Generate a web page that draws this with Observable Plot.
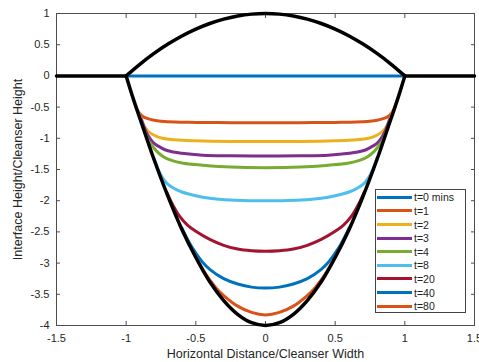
<!DOCTYPE html>
<html><head><meta charset="utf-8">
<script src="https://cdn.jsdelivr.net/npm/d3@7"></script>
<script src="https://cdn.jsdelivr.net/npm/@observablehq/plot@0.6"></script>
<style>
body{margin:0;background:#fff;}
#wrap{position:relative;width:479px;height:362px;font-family:"Liberation Sans",Arial,sans-serif;}
#legend{position:absolute;left:375px;top:189px;width:91px;height:124px;border:1px solid #444;background:#fff;box-sizing:border-box;}
.row{position:absolute;left:0;height:14px;display:flex;align-items:center;font-size:10.5px;color:#222;white-space:nowrap;}
.sw{width:35px;height:3px;margin-left:1px;margin-right:2px;}
</style></head><body><div id="wrap"></div>
<script>
// Series labels and colours
const labels = ["t=0 mins","t=1","t=2","t=3","t=4","t=8","t=20","t=40","t=80"];
const colors = ["#0072BD","#D95319","#EDB120","#7E2F8E","#77AC30","#4DBEEE","#A2142F","#0072BD","#D95319"];

// Interface curves (x, y)
const x_t0 = [-1, 1];
const y_t0 = [0, 0];
const x_t1 = [-0.93,-0.91,-0.88,-0.85,-0.8,-0.75,-0.65,-0.5,-0.25,0,0.25,0.5,0.65,0.75,0.8,0.85,0.88,0.91,0.93];
const y_t1 = [-0.5,-0.58,-0.65,-0.68,-0.71,-0.725,-0.74,-0.745,-0.75,-0.75,-0.75,-0.745,-0.74,-0.725,-0.71,-0.68,-0.65,-0.58,-0.5];
const x_t2 = [-0.91,-0.89,-0.86,-0.83,-0.79,-0.74,-0.65,-0.5,-0.25,0,0.25,0.5,0.65,0.74,0.79,0.83,0.86,0.89,0.91];
const y_t2 = [-0.58,-0.72,-0.84,-0.91,-0.96,-1.0,-1.025,-1.04,-1.05,-1.05,-1.05,-1.04,-1.025,-1.0,-0.96,-0.91,-0.84,-0.72,-0.58];
const x_t3 = [-0.89,-0.86,-0.83,-0.8,-0.75,-0.7,-0.6,-0.45,-0.25,0,0.25,0.45,0.6,0.7,0.75,0.8,0.83,0.86,0.89];
const y_t3 = [-0.7,-0.88,-1.0,-1.08,-1.15,-1.2,-1.24,-1.27,-1.28,-1.285,-1.28,-1.27,-1.24,-1.2,-1.15,-1.08,-1.0,-0.88,-0.7];
const x_t4 = [-0.87,-0.84,-0.81,-0.78,-0.73,-0.68,-0.59,-0.45,-0.25,0,0.25,0.45,0.59,0.68,0.73,0.78,0.81,0.84,0.87];
const y_t4 = [-0.88,-1.04,-1.13,-1.21,-1.3,-1.35,-1.4,-1.43,-1.46,-1.47,-1.46,-1.43,-1.4,-1.35,-1.3,-1.21,-1.13,-1.04,-0.88];
const x_t8 = [-0.8,-0.77,-0.74,-0.7,-0.65,-0.6,-0.5,-0.4,-0.25,-0.12,0,0.12,0.25,0.4,0.5,0.6,0.65,0.7,0.74,0.77,0.8];
const y_t8 = [-1.32,-1.5,-1.63,-1.74,-1.81,-1.86,-1.92,-1.96,-1.99,-2.0,-2.0,-2.0,-1.99,-1.96,-1.92,-1.86,-1.81,-1.74,-1.63,-1.5,-1.32];
const x_t20 = [-0.71,-0.67,-0.62,-0.56,-0.5,-0.4,-0.3,-0.2,-0.1,0,0.1,0.2,0.3,0.4,0.5,0.56,0.62,0.67,0.71];
const y_t20 = [-1.86,-2.05,-2.24,-2.39,-2.49,-2.62,-2.715,-2.775,-2.802,-2.81,-2.802,-2.775,-2.715,-2.62,-2.49,-2.39,-2.24,-2.05,-1.86];
const x_t40 = [-0.6,-0.55,-0.5,-0.45,-0.4,-0.3,-0.2,-0.1,0,0.1,0.2,0.3,0.4,0.45,0.5,0.55,0.6];
const y_t40 = [-2.44,-2.66,-2.84,-2.99,-3.1,-3.25,-3.335,-3.385,-3.4,-3.385,-3.335,-3.25,-3.1,-2.99,-2.84,-2.66,-2.44];
const x_t80 = [-0.5,-0.45,-0.4,-0.35,-0.3,-0.2,-0.1,0,0.1,0.2,0.3,0.35,0.4,0.45,0.5];
const y_t80 = [-2.9,-3.1,-3.27,-3.41,-3.52,-3.69,-3.79,-3.83,-3.79,-3.69,-3.52,-3.41,-3.27,-3.1,-2.9];

// Cleanser outline (black)
const x_top = [-1,-0.9,-0.8,-0.7,-0.6,-0.5,-0.4,-0.3,-0.2,-0.1,0,0.1,0.2,0.3,0.4,0.5,0.6,0.7,0.8,0.9,1];
const y_top = [0,0.19,0.36,0.51,0.64,0.75,0.84,0.91,0.96,0.99,1,0.99,0.96,0.91,0.84,0.75,0.64,0.51,0.36,0.19,0];
const x_bot = [-1,-0.95,-0.9,-0.8,-0.7,-0.6,-0.5,-0.4,-0.3,-0.2,-0.1,0,0.1,0.2,0.3,0.4,0.5,0.6,0.7,0.8,0.9,0.95,1];
const y_bot = [0,-0.36,-0.69,-1.34,-1.93,-2.46,-2.91,-3.3,-3.6,-3.82,-3.955,-4,-3.955,-3.82,-3.6,-3.3,-2.91,-2.46,-1.93,-1.34,-0.69,-0.36,0];
const x_flatL = [-1.5,-1];
const y_flatL = [0,0];
const x_flatR = [1,1.5];
const y_flatR = [0,0];

// Ticks
const xTicks = [-1.5,-1,-0.5,0,0.5,1,1.5];
const yTicks = [1,0.5,0,-0.5,-1,-1.5,-2,-2.5,-3,-3.5,-4];
const xLabel = "Horizontal Distance/Cleanser Width";
const yLabel = "Interface Height/Cleanser Height";

const seriesX = [x_t0,x_t1,x_t2,x_t3,x_t4,x_t8,x_t20,x_t40,x_t80];
const seriesY = [y_t0,y_t1,y_t2,y_t3,y_t4,y_t8,y_t20,y_t40,y_t80];
const rows = [];
seriesX.forEach((xs,i)=>xs.forEach((x,j)=>rows.push({x, y: seriesY[i][j], s: labels[i]})));
const outline = [];
[[x_flatL,y_flatL,"fl"],[x_top,y_top,"top"],[x_flatR,y_flatR,"fr"],[x_bot,y_bot,"bot"]].forEach(([xs,ys,k])=>xs.forEach((x,j)=>outline.push({x,y:ys[j],k})));

const fmt = d => String(d);
const axisColor = "#4d4d4d";
const plot = Plot.plot({
  width: 479, height: 362,
  marginLeft: 56, marginRight: 5, marginTop: 13, marginBottom: 37,
  style: {fontFamily: "'Liberation Sans', Arial, sans-serif", fontSize: "11px", background: "white", color: "#262626", overflow: "visible"},
  x: {domain: [-1.5, 1.5]},
  y: {domain: [-4, 1]},
  color: {domain: labels, range: colors},
  marks: [
    Plot.frame({stroke: axisColor, strokeWidth: 1}),
    Plot.axisX(xTicks, {anchor: "bottom", tickSize: -4, tickFormat: () => "", label: null, stroke: axisColor}),
    Plot.axisX(xTicks, {anchor: "top", tickSize: -4, tickFormat: () => "", label: null, stroke: axisColor}),
    Plot.axisY(yTicks, {anchor: "left", tickSize: -4, tickFormat: () => "", label: null, stroke: axisColor}),
    Plot.axisY(yTicks, {anchor: "right", tickSize: -4, tickFormat: () => "", label: null, stroke: axisColor}),
    Plot.axisX(xTicks, {anchor: "bottom", tickSize: 0, tickPadding: 9, tickFormat: fmt, label: null, fill: "#262626"}),
    Plot.axisY(yTicks, {anchor: "left", tickSize: 0, tickPadding: 7, tickFormat: fmt, label: null, fill: "#262626"}),
    Plot.text([xLabel], {frameAnchor: "bottom", dy: 24, lineAnchor: "top", textAnchor: "middle", text: d => d, fontSize: 12.5, fill: "#262626"}),
    Plot.text([yLabel], {frameAnchor: "left", dx: -43, rotate: -90, lineAnchor: "top", textAnchor: "middle", text: d => d, fontSize: 12.5, fill: "#262626"}),
    Plot.line(rows, {x: "x", y: "y", z: "s", stroke: "s", strokeWidth: 3, curve: "catmull-rom"}),
    Plot.line(outline, {x: "x", y: "y", z: "k", stroke: "black", strokeWidth: 3.5, curve: "catmull-rom", strokeLinejoin: "round"})
  ]
});
const wrap = document.getElementById("wrap");
wrap.appendChild(plot);
const leg = document.createElement("div");
leg.id = "legend";
labels.forEach((l,i)=>{
  const r = document.createElement("div");
  r.className = "row";
  r.style.top = (0.3 + i*13.6) + "px";
  const sw = document.createElement("div");
  sw.className = "sw";
  sw.style.background = colors[i];
  const t = document.createElement("span");
  t.textContent = l;
  r.appendChild(sw); r.appendChild(t);
  leg.appendChild(r);
});
wrap.appendChild(leg);
</script>
</body></html>
